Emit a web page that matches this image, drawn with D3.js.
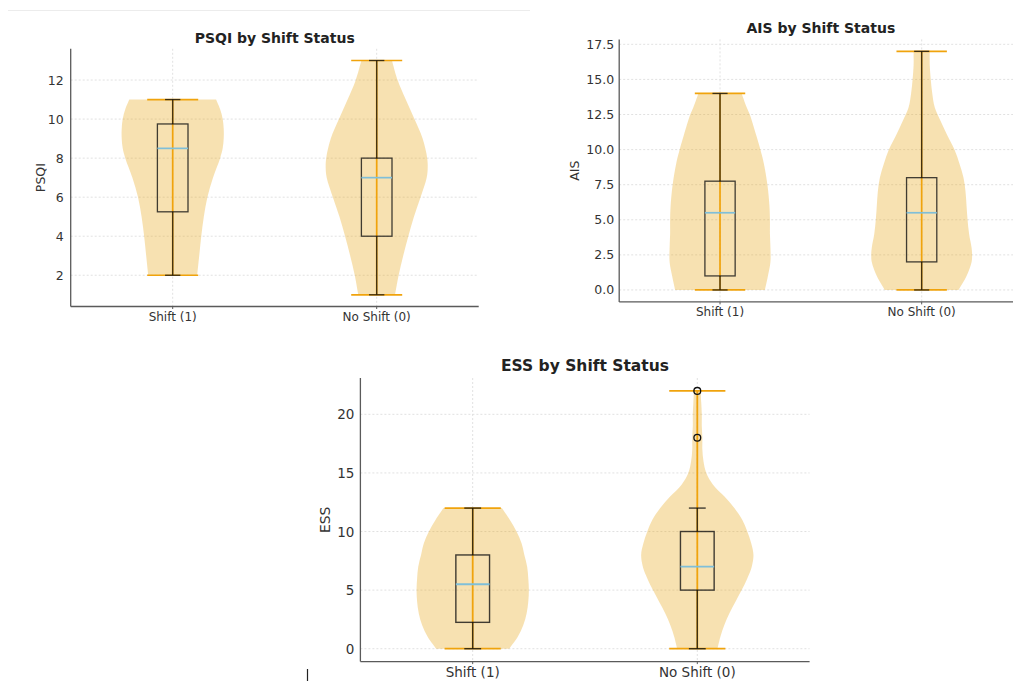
<!DOCTYPE html>
<html><head><meta charset="utf-8">
<script src="https://cdn.jsdelivr.net/npm/d3@7"></script>
<style>
body{margin:0;background:#fff;}
svg{display:block;font-family:"DejaVu Sans",sans-serif;}
</style>
</head><body>
<svg id="c" width="1013" height="682"></svg>
<script>
// ---------------- DATA ----------------
const categories = ["Shift (1)", "No Shift (0)"];
const positions = [1, 2];

// box statistics: [lower whisker, Q1, median, Q3, upper whisker]
const psqiBox = [[2, 5.25, 8.5, 9.75, 11], [1, 4, 7, 8, 13]];
const aisBox  = [[0, 1, 5.5, 7.75, 14], [0, 2, 5.5, 8, 17]];
const essBox  = [[0, 2.25, 5.5, 8, 12], [0, 5, 7, 10, 12]];

// violin extrema (min, max of data)
const psqiRange = [[2, 11], [1, 13]];
const aisRange  = [[0, 14], [0, 17]];
const essRange  = [[0, 12], [0, 22]];

// outliers
const psqiOutliers = [[], []];
const aisOutliers  = [[], []];
const essOutliers  = [[], [18, 22]];

// violin outlines: [value, relative half-width (1 = widest)]
const psqiShiftViolin = [[2,0.48],[3,0.52],[4,0.56],[5,0.61],[6,0.68],[7,0.79],[8,0.93],[8.5,0.98],[9,1.0],[9.5,1.0],[10,0.98],[10.5,0.93],[11,0.85]];
const psqiNoShiftViolin = [[1,0.36],[2,0.43],[3,0.52],[4,0.62],[5,0.73],[6,0.86],[7,0.98],[7.5,1.0],[8,0.99],[9,0.9],[10,0.74],[11,0.57],[12,0.41],[13,0.3]];
const aisShiftViolin = [[0,0.89],[1,0.95],[2,1.0],[3,1.0],[4,0.99],[5,0.99],[6,0.98],[7.5,0.94],[9,0.87],[10,0.8],[11,0.72],[12.5,0.59],[13,0.53],[14,0.43]];
const aisNoShiftViolin = [[0,0.73],[1,0.89],[2,0.99],[2.5,1.0],[3,0.99],[4,0.94],[5,0.91],[6,0.89],[7,0.87],[8,0.83],[9,0.75],[10,0.65],[11,0.51],[12,0.38],[13,0.26],[14,0.21],[15,0.18],[16,0.16],[17,0.16]];
const essShiftViolin = [[0,0.65],[1,0.8],[2,0.9],[3,0.96],[4,0.99],[5,1.0],[6,0.99],[7,0.97],[8,0.92],[9,0.87],[10,0.78],[11,0.66],[12,0.52]];
const essNoShiftViolin = [[0,0.36],[1,0.41],[2,0.48],[3,0.57],[4,0.68],[5,0.79],[6,0.89],[7,0.97],[8,1.0],[9,0.96],[10,0.89],[11,0.8],[12,0.66],[13,0.48],[14,0.28],[15,0.16],[16,0.11],[17,0.09],[18,0.09],[19,0.08],[20,0.08],[21,0.07],[22,0.06]];

// tick values
const psqiTicks = [2, 4, 6, 8, 10, 12];
const aisTicks  = [0, 2.5, 5, 7.5, 10, 12.5, 15, 17.5];
const essTicks  = [0, 5, 10, 15, 20];

// ---------------- STYLE ----------------
const violinFill = "#e8a820";
const orange = "#f0a30c";
const medianBlue = "#7fbfd9";
const gridColor = "#dedede";
const spineColor = "#5a5a5a";
const textColor = "#333";

const svg = d3.select("#c");

// page decorations
svg.append("line").attr("x1", 8).attr("x2", 530).attr("y1", 10.5).attr("y2", 10.5)
  .attr("stroke", "#ececec").attr("stroke-width", 1);
svg.append("line").attr("x1", 307.5).attr("x2", 307.5).attr("y1", 669).attr("y2", 681)
  .attr("stroke", "#222").attr("stroke-width", 1.2);

function panel(cfg) {
  const g = svg.append("g");
  const x = d3.scaleLinear().domain([0.5, 2.5]).range([cfg.left, cfg.right]);
  const y = d3.scaleLinear().domain(cfg.yDomain).range([cfg.bottom, cfg.top]);

  // grid
  g.append("g").selectAll("line").data(cfg.ticks).join("line")
    .attr("x1", cfg.left).attr("x2", cfg.right)
    .attr("y1", d => y(d)).attr("y2", d => y(d))
    .attr("stroke", gridColor).attr("stroke-width", 0.9).attr("stroke-dasharray", "2,2");
  g.append("g").selectAll("line").data(positions).join("line")
    .attr("x1", d => x(d)).attr("x2", d => x(d))
    .attr("y1", cfg.top).attr("y2", cfg.bottom)
    .attr("stroke", gridColor).attr("stroke-width", 0.9).attr("stroke-dasharray", "2,2");

  // violins
  positions.forEach((p, i) => {
    const shape = cfg.violins[i];
    const area = d3.area()
      .y(d => y(d[0]))
      .x0(d => x(p - 0.25 * d[1]))
      .x1(d => x(p + 0.25 * d[1]))
      .curve(d3.curveCatmullRom);
    g.append("path").datum(shape).attr("d", area)
      .attr("fill", violinFill).attr("fill-opacity", 0.35).attr("stroke", "none");
    const [mn, mx] = cfg.ranges[i];
    g.append("line").attr("x1", x(p)).attr("x2", x(p)).attr("y1", y(mn)).attr("y2", y(mx))
      .attr("stroke", orange).attr("stroke-width", cfg.olw);
    [mn, mx].forEach(v => {
      g.append("line").attr("x1", x(p - 0.125)).attr("x2", x(p + 0.125))
        .attr("y1", y(v)).attr("y2", y(v)).attr("stroke", orange).attr("stroke-width", cfg.olw);
    });
  });

  // boxes
  positions.forEach((p, i) => {
    const [lo, q1, med, q3, hi] = cfg.box[i];
    const bx = g.append("g").attr("stroke", "#111").attr("stroke-opacity", 0.8)
      .attr("stroke-width", cfg.lw).attr("fill", "none");
    bx.append("rect").attr("x", x(p - 0.075)).attr("width", x(p + 0.075) - x(p - 0.075))
      .attr("y", y(q3)).attr("height", y(q1) - y(q3));
    bx.append("line").attr("x1", x(p)).attr("x2", x(p)).attr("y1", y(q3)).attr("y2", y(hi));
    bx.append("line").attr("x1", x(p)).attr("x2", x(p)).attr("y1", y(q1)).attr("y2", y(lo));
    [lo, hi].forEach(v => {
      bx.append("line").attr("x1", x(p - 0.0375)).attr("x2", x(p + 0.0375))
        .attr("y1", y(v)).attr("y2", y(v));
    });
    g.append("line").attr("x1", x(p - 0.075)).attr("x2", x(p + 0.075))
      .attr("y1", y(med)).attr("y2", y(med)).attr("stroke", medianBlue).attr("stroke-width", cfg.lw * 1.3);
    g.append("g").selectAll("circle").data(cfg.outliers[i]).join("circle")
      .attr("cx", x(p)).attr("cy", d => y(d)).attr("r", cfg.fr)
      .attr("fill", "none").attr("stroke", "#111").attr("stroke-width", 1.3);
  });

  // spines
  g.append("line").attr("x1", cfg.left).attr("x2", cfg.left).attr("y1", cfg.top).attr("y2", cfg.bottom)
    .attr("stroke", spineColor).attr("stroke-width", 1.3);
  g.append("line").attr("x1", cfg.left).attr("x2", cfg.right).attr("y1", cfg.bottom).attr("y2", cfg.bottom)
    .attr("stroke", spineColor).attr("stroke-width", 1.3);

  // y ticks
  const yt = g.append("g").attr("font-size", cfg.tickFs).attr("fill", textColor);
  cfg.ticks.forEach(t => {
    yt.append("text").attr("x", cfg.left - cfg.ypad).attr("y", y(t))
      .attr("text-anchor", "end").attr("dominant-baseline", "central")
      .text(cfg.fmt(t));
  });
  // x ticks
  positions.forEach((p, i) => {
    g.append("line").attr("x1", x(p)).attr("x2", x(p)).attr("y1", cfg.bottom).attr("y2", cfg.bottom + 2.5)
      .attr("stroke", spineColor).attr("stroke-width", 1);
    g.append("text").attr("x", x(p)).attr("y", cfg.bottom + cfg.xpad)
      .attr("text-anchor", "middle").attr("font-size", cfg.xFs).attr("fill", textColor)
      .text(categories[i]);
  });

  // axis label
  g.append("text").attr("transform", `translate(${cfg.ylabX},${(cfg.top + cfg.bottom) / 2}) rotate(-90)`)
    .attr("text-anchor", "middle").attr("dominant-baseline", "central")
    .attr("font-size", cfg.labFs).attr("fill", textColor).text(cfg.ylabel);

  // title
  g.append("text").attr("x", (cfg.left + cfg.right) / 2).attr("y", cfg.titleY)
    .attr("text-anchor", "middle").attr("font-weight", "bold").attr("font-size", cfg.titleFs)
    .attr("fill", "#222").text(cfg.title);
}

panel({
  left: 70.7, right: 478.7, top: 48.8, bottom: 306.5, yDomain: [0.4, 13.6],
  ticks: psqiTicks, fmt: d3.format("d"), box: psqiBox, ranges: psqiRange,
  violins: [psqiShiftViolin, psqiNoShiftViolin], outliers: psqiOutliers,
  title: "PSQI by Shift Status", ylabel: "PSQI", titleY: 43, titleFs: 14,
  tickFs: 12.5, xFs: 12, labFs: 12.5, ylabX: 40, ypad: 7, xpad: 14, lw: 1.3, olw: 1.7, fr: 3.3
});
panel({
  left: 619.2, right: 1022.5, top: 39.4, bottom: 301.9, yDomain: [-0.85, 17.85],
  ticks: aisTicks, fmt: d3.format(".1f"), box: aisBox, ranges: aisRange,
  violins: [aisShiftViolin, aisNoShiftViolin], outliers: aisOutliers,
  title: "AIS by Shift Status", ylabel: "AIS", titleY: 33, titleFs: 14,
  tickFs: 12.5, xFs: 12, labFs: 12.5, ylabX: 574, ypad: 5, xpad: 14, lw: 1.3, olw: 1.7, fr: 3.3
});
panel({
  left: 360.4, right: 809.6, top: 378, bottom: 661.6, yDomain: [-1.1, 23.1],
  ticks: essTicks, fmt: d3.format("d"), box: essBox, ranges: essRange,
  violins: [essShiftViolin, essNoShiftViolin], outliers: essOutliers,
  title: "ESS by Shift Status", ylabel: "ESS", titleY: 371, titleFs: 15.5,
  tickFs: 13.5, xFs: 13.5, labFs: 14, ylabX: 325, ypad: 6, xpad: 15, lw: 1.4, olw: 1.8, fr: 3.4
});
</script>
</body></html>
